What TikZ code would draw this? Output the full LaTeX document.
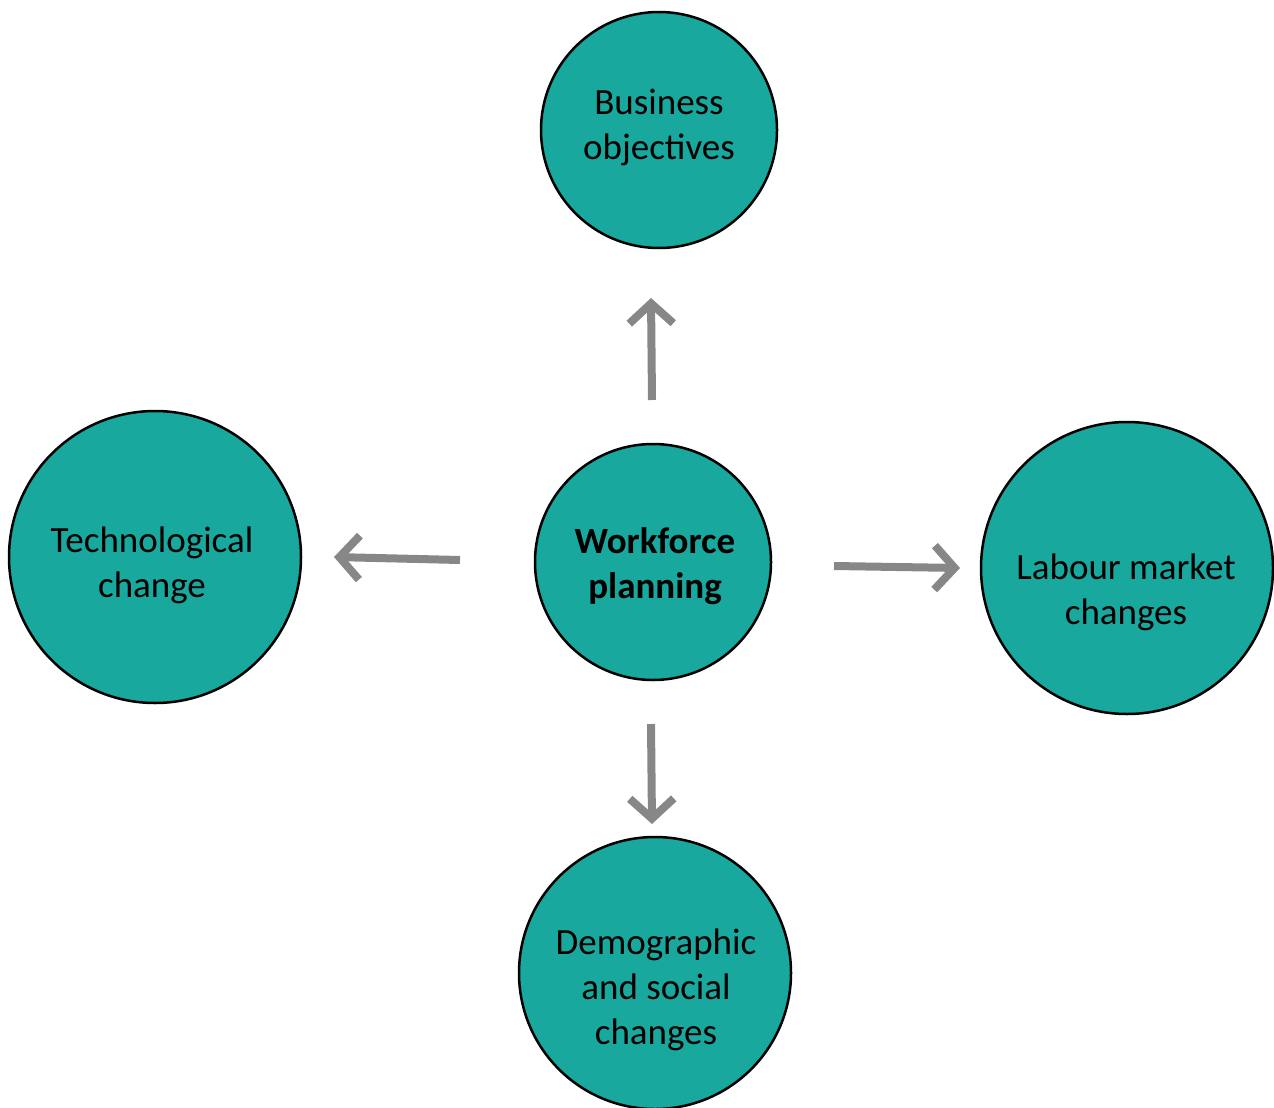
\documentclass[tikz,border=0pt]{standalone}
\usepackage{fontspec}
\setmainfont{Carlito}
\usetikzlibrary{arrows.meta}
\definecolor{teal1}{RGB}{24,168,158}
\definecolor{arrgray}{RGB}{135,135,135}
\tikzset{
  circ/.style={circle, draw=black, line width=2.5pt, fill=teal1, inner sep=0pt},
  lbl/.style={align=center, font=\fontsize{37}{45}\selectfont, inner sep=0pt},
  conn/.style={draw=arrgray, line width=8pt, -{Straight Barb[length=20pt,width=44pt]}}
}
\begin{document}
\begin{tikzpicture}[x=1pt,y=-1pt]
\useasboundingbox (0,0) rectangle (1274,1108);
\node[circ, minimum size=236pt] (bus) at (659,130) {};
\node[circ, minimum size=236pt] (wfp) at (653,562) {};
\node[circ, minimum size=292pt] (tec) at (155,557) {};
\node[circ, minimum size=292pt] (lab) at (1127,568) {};
\node[circ, minimum size=272pt] (dem) at (655,973) {};
\node[lbl] (bust) at (659,127) {Business\\objectives};
\node[lbl, font=\fontsize{37}{45}\selectfont\bfseries] (wfpt) at (655,566) {Workforce\\planning};
\node[lbl] (tect) at (152,565) {Technological\\change};
\node[lbl] (labt) at (1126,592) {Labour market\\changes};
\node[lbl] (demt) at (656,990) {Demographic\\and social\\changes};
\coordinate (u1) at (652,400); \coordinate (u2) at (651,298);
\coordinate (l1) at (460,560); \coordinate (l2) at (334,557);
\coordinate (r1) at (834,566); \coordinate (r2) at (960,568);
\coordinate (d1) at (651,724); \coordinate (d2) at (652,824);
\draw[conn] (u1) -- (u2);
\draw[conn] (l1) -- (l2);
\draw[conn] (r1) -- (r2);
\draw[conn] (d1) -- (d2);
\end{tikzpicture}
\end{document}
